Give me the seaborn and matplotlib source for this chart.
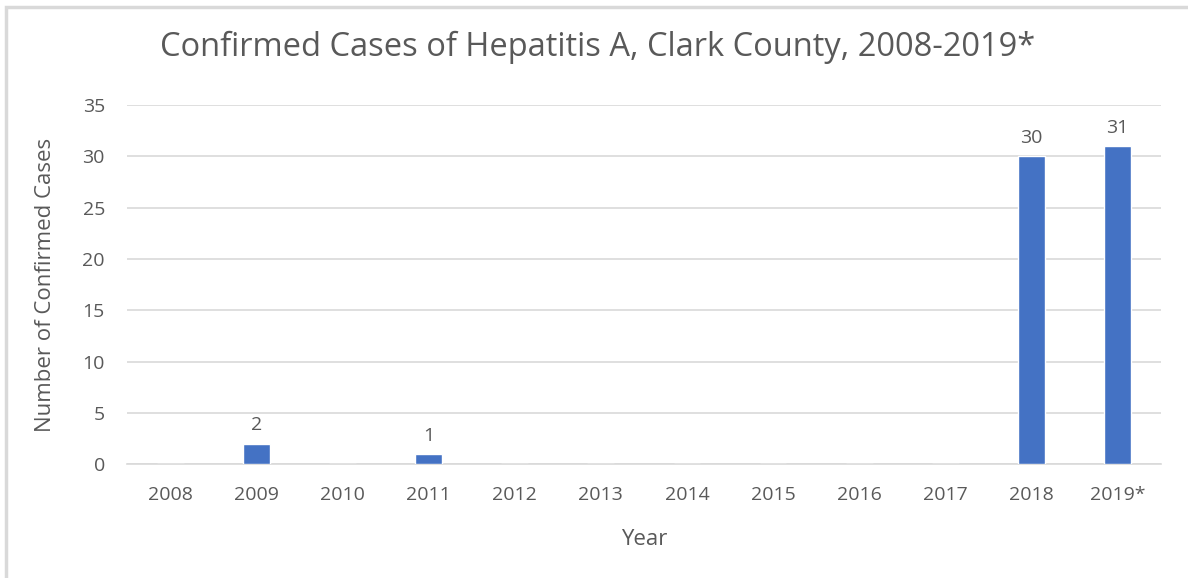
import numpy as np
import pandas as pd
import matplotlib
matplotlib.use('Agg')
import matplotlib.pyplot as plt
import seaborn as sns
from matplotlib.patches import Rectangle

# Confirmed hepatitis A cases per year
years = ['2008', '2009', '2010', '2011', '2012', '2013', '2014',
         '2015', '2016', '2017', '2018', '2019*']
cases = [0, 2, 0, 1, 0, 0, 0, 0, 0, 0, 30, 31]

df = pd.DataFrame({'Year': years, 'Cases': cases})

sns.set_theme(style='white')
plt.rcParams['font.family'] = ['Open Sans', 'DejaVu Sans']
text_col = '#595959'

fig = plt.figure(figsize=(11.88, 5.78), dpi=100)
ax = fig.add_axes([0.107, 0.197, 0.870, 0.621])

sns.barplot(x='Year', y='Cases', data=df, color='#4472C4', width=0.31,
            saturation=1, ax=ax, zorder=3)

# value labels, skip the zero years
for i, v in enumerate(cases):
    if v > 0:
        ax.text(i, v + 0.9, str(v), ha='center', va='bottom',
                fontsize=14, color=text_col)

ax.set_ylim(0, 35)
ax.set_yticks(range(0, 36, 5))
ax.set_xlim(-0.5, len(years) - 0.5)
ax.yaxis.grid(True, color='#d9d9d9', linewidth=1.2, zorder=0)
ax.set_axisbelow(True)
for s in ['top', 'right', 'left']:
    ax.spines[s].set_visible(False)
ax.spines['bottom'].set_color('#d9d9d9')
ax.spines['bottom'].set_linewidth(1.2)
ax.tick_params(axis='both', length=0, labelsize=14, colors=text_col)
ax.tick_params(axis='x', pad=16)
ax.tick_params(axis='y', pad=16)

ax.set_xlabel('Year', fontsize=16, color=text_col, labelpad=18)
ax.set_ylabel('Number of Confirmed Cases', fontsize=16, color=text_col, labelpad=19)
fig.text(0.503, 0.918, 'Confirmed Cases of Hepatitis A, Clark County, 2008-2019*',
         ha='center', va='center', fontsize=23.5, color=text_col)

# chart frame (only top and left edges visible in the crop)
fig.patches.append(Rectangle((0.005, -0.05), 1.2, 1.038, transform=fig.transFigure,
                             fill=False, edgecolor='#d9d9d9', linewidth=2.5))

fig.savefig('out.png', dpi=100)
